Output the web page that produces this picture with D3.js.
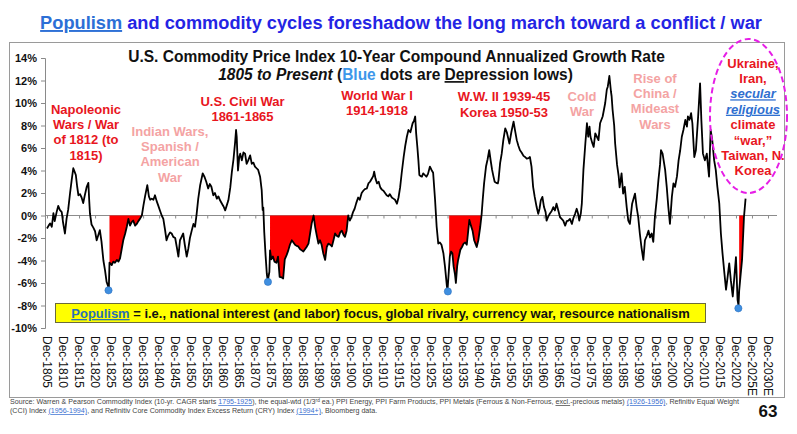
<!DOCTYPE html>
<html><head><meta charset="utf-8">
<script src="https://cdn.jsdelivr.net/npm/d3@7"></script>
<style>
body{margin:0;background:#fff}
svg{display:block}
text{font-family:"Liberation Sans",Arial,Helvetica,sans-serif}
</style>
</head><body>
<svg id="chart" width="797" height="434"></svg>
<script>
// ---------------- DATA ----------------
const years = [
1805.0,1805.5,1806.0,1806.5,1807.0,1807.4,1808.0,1808.5,1809.0,1809.6,1810.0,1810.6,1811.1,1811.6,1812.2,1812.7,1813.2,1813.6,1814.0,1814.4,1814.8,1815.3,1815.8,1816.3,1816.8,1817.4,1817.9,1818.2,1818.4,1818.9,1819.5,1820.0,1820.5,1821.0,1821.5,1822.0,1822.6,1823.1,1823.6,1824.1,1824.3,
1824.5,1825.2,1825.7,1826.2,1826.8,1827.3,1827.8,1828.3,1828.8,1829.4,1829.9,1830.4,1830.9,1831.4,1831.9,1832.5,1833.0,1833.5,1834.0,1834.6,1835.1,1835.6,1836.3,1836.8,1837.2,1837.7,1838.2,1838.7,1839.2,1839.7,1840.3,1840.8,1841.3,1841.8,1842.3,1842.8,1843.4,1843.9,1844.4,1845.0,1845.5,1846.0,1846.5,1847.0,1847.5,1848.0,1848.6,1849.1,1849.6,1850.2,1850.7,1851.2,1851.7,1852.2,1852.8,1853.6,1854.2,1854.7,1855.3,1855.8,1856.3,1856.9,1857.4,1858.0,1858.5,1859.0,1859.6,1860.1,1860.6,1861.1,1861.6,1862.2,1862.7,1863.2,1863.7,1864.0,1864.2,1864.6,1865.0,1865.3,1865.8,1866.3,1866.8,1867.3,1867.8,1868.4,1868.9,1869.4,1869.9,1870.4,1870.9,1871.5,1872.0,1872.3,1872.5,1872.8,1873.2,1873.6,1873.9,
1874.4,1874.6,1875.0,1875.5,1876.0,1876.6,1877.1,1877.6,1878.2,1878.7,1879.2,1879.8,1880.3,1880.8,1881.4,1881.9,1882.4,1882.9,1883.4,1884.0,1884.5,1885.0,1885.5,1886.0,1886.6,1887.1,1887.6,1888.2,1888.7,1889.2,1889.7,1890.2,1890.7,1891.2,1891.8,1892.3,1892.8,1893.4,1893.9,1894.4,1894.9,1895.4,1896.0,1896.5,1897.0,1897.5,1898.0,1898.5,1899.0,1899.5,1900.0,1900.5,1901.0,1901.5,1902.1,1902.6,1903.2,1903.7,1904.2,1904.8,1905.3,1905.8,1906.3,1906.8,1907.1,1907.5,1908.0,1908.5,1909.0,1909.5,1910.0,1910.5,1911.0,1911.5,1912.0,1912.6,1913.1,1913.6,1914.2,1914.7,1915.2,1915.7,1916.3,1916.8,1917.3,1917.8,1918.4,1919.1,1919.5,1919.9,1920.2,1920.6,1920.9,1921.2,1921.6,1922.0,1922.4,1922.9,1923.4,1923.9,1924.5,1925.0,1925.5,1926.1,1926.6,1927.1,1927.6,1928.1,1928.7,1929.2,1929.8,1930.0,
1930.5,1930.7,1931.1,1931.5,1931.9,1932.3,1932.6,1933.0,1933.3,1934.0,1934.5,1935.0,1935.5,1936.0,1936.4,1936.8,1937.3,1937.8,1938.3,1938.7,1939.1,1939.6,1940.2,1940.6,1941.0,1941.4,1942.0,1942.5,1943.0,1943.5,1943.9,1944.3,1944.7,1945.2,1945.7,1945.9,1946.4,1946.9,1947.4,1948.0,1948.5,1948.9,1949.3,1949.9,1950.6,1951.1,1951.6,1952.1,1952.6,1953.1,1953.7,1954.2,1954.7,1955.3,1955.7,1956.2,1956.7,1957.2,1957.8,1958.3,1958.7,1959.1,1959.6,1960.1,1960.6,1960.9,1961.4,1961.9,1962.5,1963.0,1963.5,1964.0,1964.6,1965.1,1965.6,1966.1,1966.7,1967.2,1967.7,1968.2,1968.8,1969.3,1969.8,1970.3,1970.7,1971.1,1971.6,1971.9,1972.4,1973.0,1973.5,1973.9,1974.3,1974.6,1975.1,1975.6,1976.1,1976.6,1977.1,1977.6,1978.4,1979.2,1979.7,1980.0,1980.5,1981.0,1981.2,1981.5,1982.0,1982.3,1982.9,1983.4,1983.7,1984.3,1984.8,1985.3,1985.9,1986.4,1986.9,1987.6,1988.5,1989.0,1989.5,1990.0,1990.5,1991.1,1991.6,1992.2,1992.7,1993.2,1993.7,1994.2,1994.7,1995.3,1995.8,1996.3,1996.6,1997.1,1997.9,1998.4,1998.9,1999.4,2000.0,2000.5,2001.0,2001.6,2002.1,2002.6,2003.1,2003.6,2004.2,2004.7,2005.0,2005.5,2006.0,2006.4,2007.0,2007.5,2008.2,2008.8,2009.2,2009.7,2010.3,2010.9,2011.6,2012.1,2012.6,2013.2,2013.7,2014.2,2014.8,2015.3,2015.8,2016.4,2016.9,2017.4,2017.9,2018.4,2019.0,2019.5,2020.0,2020.5,2020.8,2021.0,2021.4,2021.9,2022.5,2023.0
];
const values = [
-1.15,-0.9,-0.7,-1.0,0.2,-0.5,0.3,0.85,0.5,0.3,-0.6,-1.6,-0.3,0.5,2.0,3.15,4.2,3.9,3.6,2.6,1.8,1.9,1.6,1.1,1.8,2.55,2.9,1.2,0.2,-0.8,-1.1,-1.4,-2.2,-1.75,-1.3,-2.3,-4.0,-4.85,-5.9,-6.3,-6.45,
-4.2,-4.4,-4.1,-4.2,-3.95,-4.1,-3.8,-3.0,-2.2,-1.6,-1.0,-0.3,-0.9,-0.6,-0.45,-0.9,-0.75,-0.5,-0.3,0.0,0.9,1.7,2.7,1.7,1.4,1.5,1.4,1.8,1.3,0.9,0.4,0.0,-0.3,-1.2,-2.2,-1.8,-1.5,-1.6,-1.9,-2.0,-2.8,-3.65,-2.2,-1.9,-1.6,-2.6,-3.65,-2.95,-2.0,-1.3,-0.75,-1.0,0.15,1.5,2.7,3.75,3.4,3.0,2.4,2.8,2.55,1.8,2.0,1.5,1.7,1.35,1.05,0.8,0.45,0.9,1.35,2.5,3.9,5.0,6.5,7.6,7.0,4.0,5.2,5.5,4.9,5.6,5.5,4.6,4.9,5.35,4.6,4.7,4.35,4.2,4.05,3.45,2.25,0.5,0.7,-1.5,-3.5,-5.2,-5.8,
-5.0,-3.1,-3.9,-3.65,-4.1,-4.2,-3.65,-5.45,-5.5,-5.6,-3.9,-3.5,-3.1,-2.6,-2.2,-2.4,-2.6,-2.7,-2.75,-3.0,-3.1,-3.2,-3.0,-2.8,-2.5,-1.6,-0.7,0.0,-1.05,-1.8,-2.5,-2.2,-2.6,-3.35,-3.95,-2.8,-2.5,-2.6,-2.75,-2.2,-1.6,-1.8,-1.9,-1.5,-1.35,-1.7,-1.9,-1.35,0.0,-0.45,-0.15,0.3,0.6,1.1,1.6,1.4,2.0,2.2,2.35,2.4,2.85,3.0,3.25,3.5,3.9,3.3,2.85,3.0,2.5,2.3,2.2,2.0,1.8,1.7,1.9,1.6,1.5,1.4,1.05,1.6,2.5,3.8,5.2,6.2,7.0,7.6,7.4,8.2,8.4,8.8,7.3,6.0,4.9,3.6,3.5,3.45,3.75,3.6,3.45,3.7,4.35,4.05,3.8,1.4,-1.0,-2.5,-2.4,-2.6,-3.35,-4.55,-6.3,-6.6,
-4.5,-3.65,-3.2,-3.35,-4.55,-5.2,-6.0,-4.5,-3.95,-3.05,-2.8,-2.5,-2.4,-2.6,-1.5,-0.4,-0.9,-1.35,-2.2,-2.5,-2.8,-2.2,-1.0,0.0,1.5,2.85,4.35,5.0,5.8,4.8,4.05,3.5,3.0,2.9,2.85,3.15,4.65,5.5,6.7,7.75,7.4,6.9,6.4,7.4,8.35,7.5,6.7,6.2,5.8,5.6,5.3,5.2,5.05,5.1,5.2,4.35,2.55,1.65,0.75,0.15,0.6,1.35,1.65,0.75,0.3,-0.45,-0.1,0.15,0.4,0.75,0.45,1.05,0.4,-0.15,-0.3,-0.45,-0.9,-0.5,-0.45,-0.3,-0.75,-0.2,0.15,0.6,0.2,-0.45,0.2,1.05,4.05,6.4,8.2,7.0,7.9,7.0,6.5,6.1,7.3,7.0,6.7,8.2,8.8,10.0,11.2,11.45,12.4,11.0,10.6,9.4,8.0,6.4,4.5,3.5,2.5,3.75,1.95,2.55,0.75,-0.45,-0.75,1.05,1.95,0.75,-0.15,-1.6,-2.8,-3.95,-2.2,-1.8,-1.35,-1.95,-1.6,-2.35,-0.15,1.5,3.15,4.5,5.8,5.5,4.05,2.55,0.75,-0.75,1.65,2.85,2.55,3.5,4.9,5.8,7.0,7.6,8.5,7.9,8.8,8.5,9.1,8.2,5.2,5.8,8.8,11.75,8.5,5.5,4.9,5.5,3.45,7.6,6.7,4.9,4.05,2.55,1.05,-1.6,-3.35,-5.15,-6.6,-5.45,-4.25,-5.75,-7.2,-5.45,-3.7,-7.5,-8.0,-6.7,-5.45,-3.95,-0.15,1.5
];
// Depression lows (blue dots)
const lowYears  = [1824.2, 1873.95, 1930.1, 2020.75];
const lowValues = [-6.65, -5.9, -6.75, -8.25];
// Red shaded recoveries (from low back to zero)
const fillStart = [1824.4, 1874.5, 1930.4, 2020.9];
const fillEnd   = [1834.6, 1899.0, 1940.6, 2022.5];
// Axis ticks
const yTickValues = [14,12,10,8,6,4,2,0,-2,-4,-6,-8,-10];
const yTickLabels = ["14%","12%","10%","8%","6%","4%","2%","0%","-2%","-4%","-6%","-8%","-10%"];
const xTickYears = [1805,1810,1815,1820,1825,1830,1835,1840,1845,1850,1855,1860,1865,1870,1875,1880,1885,1890,1895,1900,1905,1910,1915,1920,1925,1930,1935,1940,1945,1950,1955,1960,1965,1970,1975,1980,1985,1990,1995,2000,2005,2010,2015,2020,2025,2030];
const xTickLabels = ["Dec-1805","Dec-1810","Dec-1815","Dec-1820","Dec-1825","Dec-1830","Dec-1835","Dec-1840","Dec-1845","Dec-1850","Dec-1855","Dec-1860","Dec-1865","Dec-1870","Dec-1875","Dec-1880","Dec-1885","Dec-1890","Dec-1895","Dec-1900","Dec-1905","Dec-1910","Dec-1915","Dec-1920","Dec-1925","Dec-1930","Dec-1935","Dec-1940","Dec-1945","Dec-1950","Dec-1955","Dec-1960","Dec-1965","Dec-1970","Dec-1975","Dec-1980","Dec-1985","Dec-1990","Dec-1995","Dec-2000","Dec-2005","Dec-2010","Dec-2015","Dec-2020","Dec-2025E","Dec-2030E"];

// ---------------- DRAW ----------------
const svg = d3.select("#chart");
const RED = "#e8161e", PINK = "#f4a3a3", LINKBLUE = "#2f6fd0";

const x = d3.scaleLinear().domain([1805, 2030]).range([47, 768]);
const y = d3.scaleLinear().domain([-10, 14]).range([328, 58]);

// frame
svg.append("rect").attr("x", 9.5).attr("y", 42.5).attr("width", 775).attr("height", 355)
  .attr("fill", "none").attr("stroke", "#9a9a9a").attr("stroke-width", 1);

// fit helper: horizontal scale so the text spans target width
function fitText(t, cx, baseline, target) {
  const w = t.node().getComputedTextLength();
  const s = target / w;
  t.attr("x", 0).attr("y", 0).attr("text-anchor", "middle")
   .attr("transform", `translate(${cx},${baseline}) scale(${s},1)`);
}

// main title
const title = svg.append("text").attr("font-size", 19).attr("font-weight", "bold");
title.append("tspan").text("Populism").attr("fill", "#2c6fd6").attr("text-decoration", "underline");
title.append("tspan").text(" and commodity cycles foreshadow the long march toward a conflict / war").attr("fill", "#2424e4");
fitText(title, 401, 29, 722);

// chart title
const ct = svg.append("text").attr("font-size", 17).attr("font-weight", "bold").attr("fill", "#111")
  .text("U.S. Commodity Price Index 10-Year Compound Annualized Growth Rate");
fitText(ct, 396.5, 62, 537);

const st = svg.append("text").attr("font-size", 17).attr("font-weight", "bold").attr("fill", "#111");
st.append("tspan").text("1805 to Present").attr("font-style", "italic");
st.append("tspan").text(" (");
st.append("tspan").text("Blue").attr("fill", "#3d97ea");
st.append("tspan").text(" dots are ");
st.append("tspan").text("De").attr("text-decoration", "underline");
st.append("tspan").text("pression lows)");
fitText(st, 395.5, 80, 355);

// y axis
const yAxis = d3.axisLeft(y).tickValues(yTickValues).tickSize(4)
  .tickFormat((d, i) => yTickLabels[i]);
const ya = svg.append("g").attr("transform", "translate(45,0)").call(yAxis);
ya.select(".domain").attr("stroke", "#8a8a8a");
ya.selectAll(".tick line").attr("stroke", "#8a8a8a");
ya.selectAll(".tick text").attr("font-size", 11).attr("font-weight", "bold").attr("fill", "#111")
  .attr("font-family", "'Liberation Sans',Arial,sans-serif").attr("x", -8);

// zero line with 5-year ticks
const zx = d3.axisBottom(x).tickValues(xTickYears).tickSize(3).tickFormat("");
const zg = svg.append("g").attr("transform", `translate(0,${y(0)})`).call(zx);
zg.select(".domain").attr("d", `M45,0H777`).attr("stroke", "#8c8c8c");
zg.selectAll(".tick line").attr("stroke", "#8c8c8c");

// x labels (rotated)
const xl = svg.append("g");
xTickYears.forEach((yr, i) => {
  xl.append("text").attr("transform", `translate(${x(yr)},336) rotate(90)`)
    .attr("dy", "0.36em").attr("font-size", 12).attr("fill", "#111").text(xTickLabels[i]);
});

// series
const series = years.map((yr, i) => ({ yr, v: values[i] }));

// red fills
const area = d3.area().x(d => x(d.yr)).y0(y(0)).y1(d => y(Math.min(0, d.v)));
fillStart.forEach((s, i) => {
  const seg = series.filter(d => d.yr >= s && d.yr <= fillEnd[i]);
  svg.append("path").datum(seg).attr("d", area).attr("fill", "#ff0000");
});

// line
const line = d3.line().x(d => x(d.yr)).y(d => y(d.v));
svg.append("path").datum(series).attr("d", line).attr("fill", "none")
  .attr("stroke", "#000").attr("stroke-width", 1.8).attr("stroke-linejoin", "round");

// blue dots
svg.selectAll(".low").data(lowYears).enter().append("circle")
  .attr("cx", d => x(d)).attr("cy", (d, i) => y(lowValues[i])).attr("r", 3.6)
  .attr("fill", "#3f8fe0").attr("stroke", "#2a6fc0").attr("stroke-width", 0.6);

// annotations
function lines(list, cx, firstBaseline, lh, color) {
  list.forEach((ln, i) => {
    const t = svg.append("text").attr("x", cx).attr("y", firstBaseline + i * lh)
      .attr("text-anchor", "middle").attr("font-size", 13).attr("font-weight", "bold");
    const segs = Array.isArray(ln) ? ln : [{ t: ln }];
    segs.forEach(s => {
      const sp = t.append("tspan").text(s.t).attr("fill", s.c || color);
      if (s.i) sp.attr("font-style", "italic");
      if (s.u) sp.attr("text-decoration", "underline");
    });
  });
}
lines(["Napoleonic", "Wars / War", "of 1812 (to", "1815)"], 86, 113.5, 15.4, RED);
lines(["Indian Wars,", "Spanish /", "American", "War"], 170, 135.5, 15.4, PINK);
lines(["U.S. Civil War", "1861-1865"], 242.5, 105.5, 15.8, RED);
lines(["World War I", "1914-1918"], 377, 99.5, 15.8, RED);
lines(["W.W. II 1939-45", "Korea 1950-53"], 504, 100.5, 16.5, RED);
lines(["Cold", "War"], 582, 100.5, 15, PINK);
lines(["Rise of", "China /", "Mideast", "Wars"], 655, 82.5, 15.4, PINK);
lines(["Ukraine,", "Iran,",
  [{ t: "secular", c: LINKBLUE, i: 1, u: 1 }],
  [{ t: "religious", c: LINKBLUE, i: 1, u: 1 }],
  "climate", "\u201Cwar,\u201D", "Taiwan, N.", "Korea"], 753, 67.5, 15.4, RED);

// magenta ellipse
svg.append("ellipse").attr("cx", 748.5).attr("cy", 116).attr("rx", 38.5).attr("ry", 77)
  .attr("fill", "none").attr("stroke", "#e61ee6").attr("stroke-width", 2).attr("stroke-dasharray", "6,3.5");

// yellow populism box
svg.append("rect").attr("x", 55.5).attr("y", 303.5).attr("width", 650).attr("height", 19)
  .attr("fill", "#ffff00").attr("stroke", "#6b6b3a").attr("stroke-width", 1);
const yt = svg.append("text").attr("font-size", 13).attr("font-weight", "bold").attr("fill", "#111");
yt.append("tspan").text("Populism").attr("fill", "#2a70b4").attr("text-decoration", "underline");
yt.append("tspan").text(" = i.e., national interest (and labor) focus, global rivalry, currency war, resource nationalism");
fitText(yt, 380.5, 318, 619);

// source text
function srcLine(segs, baseline) {
  const t = svg.append("text").attr("font-size", 7.4).attr("fill", "#444");
  segs.forEach(s => {
    const sp = t.append("tspan").text(s.t);
    if (s.l) sp.attr("fill", "#3a6fd0").attr("text-decoration", "underline");
    if (s.u) sp.attr("text-decoration", "underline");
    if (s.sup) sp.attr("font-size", 5).attr("dy", -2.5);
    if (s.down) sp.attr("dy", 2.5);
  });
  return t;
}
const s1 = srcLine([
  { t: "Source: Warren & Pearson Commodity Index (10-yr. CAGR starts " }, { t: "1795-1925", l: 1 },
  { t: "), the equal-wtd (1/3" }, { t: "rd", sup: 1 }, { t: " ea.) PPI Energy, PPI Farm Products, PPI Metals (Ferrous & Non-Ferrous, ", down: 1 },
  { t: "excl.", u: 1 }, { t: "-precious metals) " }, { t: "(1926-1956)", l: 1 }, { t: ", Refinitiv Equal Weight" }
], 404);
const s2 = srcLine([
  { t: "(CCI) Index " }, { t: "(1956-1994)", l: 1 },
  { t: ", and Refinitiv Core Commodity Index Excess Return (CRY) Index " }, { t: "(1994+)", l: 1 }, { t: ", Bloomberg data." }
], 413);
const w1 = s1.node().getComputedTextLength();
const sc = 730 / w1;
s1.attr("transform", `translate(10,404) scale(${sc},1)`);
s2.attr("transform", `translate(10,413) scale(${sc},1)`);

// page number
svg.append("text").attr("x", 768).attr("y", 417).attr("text-anchor", "middle")
  .attr("font-size", 17).attr("font-weight", "bold").attr("fill", "#111").text("63");
</script>
</body></html>
